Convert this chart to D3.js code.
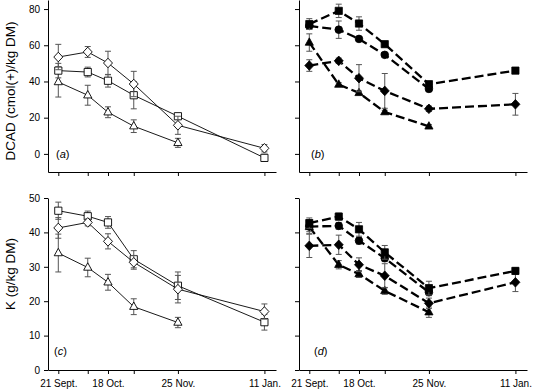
<!DOCTYPE html>
<html>
<head>
<meta charset="utf-8">
<script src="https://cdn.jsdelivr.net/npm/d3@7"></script>
<style>
  html, body { margin: 0; padding: 0; background: #fff; }
  svg { display: block; font-family: "Liberation Sans", Arial, Helvetica, sans-serif; }
</style>
</head>
<body>
<svg id="chart" width="538" height="390"></svg>
<script>
// ---- data ----
// sampling dates, in days since 21 Sept.
const days = [0, 16, 27, 41, 65, 112];
const dateLabels = ["21 Sept.", "", "18 Oct.", "", "25 Nov.", "11 Jan."];
const dcadTicks = [0, 20, 40, 60, 80];
const kTicks = [0, 10, 20, 30, 40, 50];

// (a) DCAD, open symbols
const aDiamond = [53.5, 56.3, 50.2, 38.6, 15.8, 3.1];
const aDiamondErr = [7, 3, 6.5, 7, 5, 2];
const aSquare = [46, 45.2, 40.4, 32.4, 20.8, -2.2];
const aSquareErr = [4, 2.7, 3.5, 7.5, 1.5, 2];
const aTriangle = [39.7, 32.4, 23, 15.3, 6.1];
const aTriangleErr = [8.3, 5.5, 3, 3.5, 2.5];

// (b) DCAD, closed symbols
const bSquare = [71.7, 79, 72, 60.6, 38.5, 46];
const bSquareErr = [3, 3.7, 3.7, 1.5, 1.5, 1.5];
const bCircle = [70.7, 68.6, 63.5, 54.7, 35.9];
const bCircleErr = [2, 4.8, 1, 1, 1.5];
const bTriangle = [61.5, 38.3, 33.7, 23.1, 15.2];
const bTriangleErr = [4.8, 1, 1, 1, 1];
const bDiamond = [48.8, 51.4, 41.8, 34.8, 24.9, 27.4];
const bDiamondErr = [3.2, 1.5, 7.5, 9.6, 1.5, 6];

// (c) K, open symbols
const cSquare = [46.3, 44.7, 42.9, 32.2, 24.5, 13.9];
const cSquareErr = [2.5, 1.5, 1.7, 2.5, 4, 2.3];
const cDiamond = [41.3, 42.9, 37.4, 31.3, 23.5, 17];
const cDiamondErr = [3, 1, 2.2, 2, 4, 2.2];
const cTriangle = [34, 29.8, 25.5, 18.4, 13.8];
const cTriangleErr = [5.5, 2.7, 2.3, 2.3, 1.5];

// (d) K, closed symbols
const dSquare = [42.7, 44.6, 40.9, 34.2, 23.8, 28.8];
const dSquareErr = [1.5, 1, 2, 2, 2, 1];
const dCircle = [41.7, 41.9, 37.6, 32.5, 22.6];
const dCircleErr = [1.5, 1, 1, 1, 1];
const dTriangle = [41.6, 30.6, 27.9, 23, 16.8];
const dTriangleErr = [2, 1.2, 1, 1, 1.5];
const dDiamond = [36.1, 36.4, 30.6, 27.4, 19.4, 25.5];
const dDiamondErr = [3.4, 2.8, 2, 3.5, 1.5, 2.7];

// ---- drawing ----
const svg = d3.select("#chart");

const shapes = {
  diamond: "M0,-4.8L4.5,0L0,4.8L-4.5,0Z",
  square: "M-3.6,-3.6H3.6V3.6H-3.6Z",
  triangle: "M0,-4.7L4.1,2.7L-4.1,2.7Z",
  circle: d3.symbol(d3.symbolCircle, 46)()
};

const yTop = d3.scaleLinear().domain([-10, 85]).range([172, 0]);
const yBot = d3.scaleLinear().domain([0, 50]).range([370, 198]);
const xLeft = d3.scaleLinear().domain([-5.6, 118.3]).range([48, 276]);
const xRight = d3.scaleLinear().domain([-5.6, 118.3]).range([299, 527]);

function axes(x, y, yTicks, showY, showX) {
  const g = svg.append("g");
  const ya = d3.axisLeft(y).tickValues(yTicks).tickSize(4).tickSizeOuter(0).tickPadding(4)
    .tickFormat(d => showY ? d : "");
  g.append("g").attr("transform", `translate(${x.range()[0]},0)`).call(ya);
  const xa = d3.axisBottom(x).tickValues(days).tickSize(4).tickSizeOuter(0).tickPadding(6)
    .tickFormat((d, i) => showX ? dateLabels[i] : "");
  g.append("g").attr("transform", `translate(0,${y.range()[0]})`).call(xa);
  g.selectAll(".domain, .tick line").attr("stroke", "#000").attr("stroke-width", 1);
  g.selectAll(".tick text").attr("font-size", 10).attr("fill", "#000")
    .attr("font-family", '"Liberation Sans", Arial, sans-serif');
}

function series(x, y, vals, errs, shape, filled, dashed) {
  const g = svg.append("g");
  const pts = vals.map((v, i) => ({ d: days[i], v, e: errs[i] }));
  const line = d3.line().x(p => x(p.d)).y(p => y(p.v));
  g.append("path").datum(pts).attr("d", line).attr("fill", "none")
    .attr("stroke", "#000")
    .attr("stroke-width", dashed ? 2.3 : 0.9)
    .attr("stroke-dasharray", dashed ? "9,4" : null);
  const eb = g.selectAll(".eb").data(pts).enter().append("g").attr("class", "eb")
    .attr("stroke", "#555").attr("stroke-width", 1);
  eb.append("line").attr("x1", p => x(p.d)).attr("x2", p => x(p.d))
    .attr("y1", p => y(p.v - p.e)).attr("y2", p => y(p.v + p.e));
  eb.append("line").attr("x1", p => x(p.d) - 3).attr("x2", p => x(p.d) + 3)
    .attr("y1", p => y(p.v + p.e)).attr("y2", p => y(p.v + p.e));
  eb.append("line").attr("x1", p => x(p.d) - 3).attr("x2", p => x(p.d) + 3)
    .attr("y1", p => y(p.v - p.e)).attr("y2", p => y(p.v - p.e));
  g.selectAll(".mk").data(pts).enter().append("path").attr("class", "mk")
    .attr("d", shapes[shape])
    .attr("transform", p => `translate(${x(p.d)},${y(p.v)})`)
    .attr("fill", filled ? "#000" : "#fff")
    .attr("stroke", "#000").attr("stroke-width", filled ? 0.8 : 0.9);
}

function panelLabel(x, y, letter) {
  const t = svg.append("text").attr("x", x).attr("y", y).attr("font-size", 11).attr("fill", "#000");
  t.append("tspan").text("(");
  t.append("tspan").attr("font-style", "italic").text(letter);
  t.append("tspan").text(")");
}

// panel (a)
axes(xLeft, yTop, dcadTicks, true, false);
series(xLeft, yTop, aTriangle, aTriangleErr, "triangle", false, false);
series(xLeft, yTop, aSquare, aSquareErr, "square", false, false);
series(xLeft, yTop, aDiamond, aDiamondErr, "diamond", false, false);
panelLabel(56, 158, "a");

// panel (b)
axes(xRight, yTop, dcadTicks, false, false);
series(xRight, yTop, bTriangle, bTriangleErr, "triangle", true, true);
series(xRight, yTop, bDiamond, bDiamondErr, "diamond", true, true);
series(xRight, yTop, bCircle, bCircleErr, "circle", true, true);
series(xRight, yTop, bSquare, bSquareErr, "square", true, true);
panelLabel(311, 158, "b");

// panel (c)
axes(xLeft, yBot, kTicks, true, true);
series(xLeft, yBot, cTriangle, cTriangleErr, "triangle", false, false);
series(xLeft, yBot, cSquare, cSquareErr, "square", false, false);
series(xLeft, yBot, cDiamond, cDiamondErr, "diamond", false, false);
panelLabel(54, 355, "c");

// panel (d)
axes(xRight, yBot, kTicks, false, true);
series(xRight, yBot, dTriangle, dTriangleErr, "triangle", true, true);
series(xRight, yBot, dDiamond, dDiamondErr, "diamond", true, true);
series(xRight, yBot, dCircle, dCircleErr, "circle", true, true);
series(xRight, yBot, dSquare, dSquareErr, "square", true, true);
panelLabel(314, 355, "d");

// axis titles
svg.append("text").attr("transform", "translate(15,91) rotate(-90)")
  .attr("text-anchor", "middle").attr("font-size", 13.5).attr("fill", "#000")
  .text("DCAD (cmol(+)/kg DM)");
svg.append("text").attr("transform", "translate(15,274) rotate(-90)")
  .attr("text-anchor", "middle").attr("font-size", 13.5).attr("fill", "#000")
  .text("K (g/kg DM)");
</script>
</body>
</html>
